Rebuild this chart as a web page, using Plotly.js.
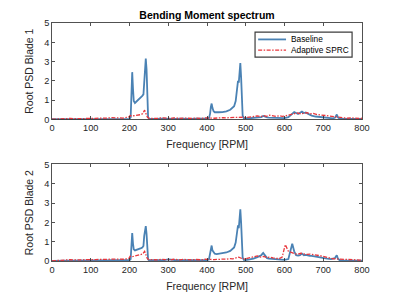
<!DOCTYPE html>
<html>
<head>
<meta charset="utf-8">
<script src="https://cdn.plot.ly/plotly-3.0.1.min.js"></script>
<style>html,body{margin:0;padding:0;background:#fff;}#chart{width:399px;height:299px;}</style>
</head>
<body>
<div id="chart"></div>
<script>
// Frequency grid for Baseline series [RPM]
const freqBase = [
  0,10,20,30,40,50,60,70,80,90,
  100,110,120,130,140,150,160,170,180,190,
  200,203,205,207,209,211,214,218,222,226,
  230,233,236,238,240,242,244,246,248,250,
  255,260,270,280,290,300,310,320,330,340,
  350,360,370,380,390,400,405,408,410,412,
  414,417,420,425,430,440,450,460,465,470,
  474,477,480,482,484,486,488,490,492,495,
  500,510,520,530,540,545,550,555,560,570,
  580,590,600,610,615,620,625,630,635,640,
  645,650,655,660,665,670,680,690,700,710,
  720,725,730,733,735,738,742,750,760,770,
  780,790,800
];
// Frequency grid for Adaptive SPRC series [RPM]
const freqSPRC = [
  0,8,16,24,32,40,48,56,64,72,
  80,88,96,104,112,120,128,136,144,152,
  160,168,176,184,192,198,202,205,210,215,
  220,225,230,234,237,239,241,243,246,250,
  258,266,274,282,290,298,306,314,322,330,
  338,346,354,362,370,378,386,394,402,410,
  418,426,434,442,450,458,466,474,482,490,
  498,506,514,522,530,538,546,554,562,570,
  578,586,594,602,610,618,626,634,642,650,
  658,666,674,682,690,698,706,714,722,730,
  738,746,754,762,770,778,786,794,800
];
const baseBlade1 = [
  0.01,0.01,0.02,0.02,0.03,0.03,0.03,0.03,0.02,0.03,
  0.03,0.03,0.02,0.03,0.03,0.04,0.04,0.03,0.04,0.03,
  0.03,0.1,1.2,2.45,1.6,0.95,0.85,0.92,1.0,1.08,
  1.18,1.22,1.3,2.2,2.35,3.15,2.6,1.0,0.12,0.04,
  0.03,0.04,0.03,0.04,0.03,0.05,0.04,0.03,0.04,0.03,
  0.04,0.03,0.04,0.03,0.04,0.04,0.06,0.3,0.65,0.82,
  0.6,0.42,0.37,0.36,0.37,0.38,0.42,0.5,0.58,0.68,
  0.95,1.6,2.0,1.9,2.5,2.92,2.2,0.9,0.2,0.06,
  0.05,0.06,0.08,0.1,0.12,0.18,0.12,0.1,0.09,0.08,
  0.07,0.06,0.07,0.12,0.2,0.3,0.38,0.33,0.28,0.34,
  0.4,0.33,0.36,0.3,0.25,0.2,0.15,0.12,0.1,0.08,
  0.06,0.05,0.08,0.2,0.25,0.1,0.04,0.03,0.02,0.02,
  0.02,0.02,0.02
];
const sprcBlade1 = [
  0.01,0.02,0.03,0.02,0.04,0.03,0.05,0.04,0.03,0.05,
  0.04,0.05,0.04,0.06,0.05,0.07,0.06,0.08,0.07,0.09,
  0.08,0.07,0.09,0.07,0.1,0.12,0.2,0.18,0.19,0.21,
  0.2,0.23,0.25,0.3,0.42,0.48,0.38,0.25,0.12,0.06,
  0.05,0.07,0.05,0.08,0.06,0.07,0.05,0.08,0.06,0.05,
  0.07,0.06,0.08,0.05,0.07,0.06,0.05,0.08,0.06,0.07,
  0.06,0.08,0.07,0.09,0.08,0.1,0.09,0.11,0.1,0.12,
  0.09,0.1,0.13,0.15,0.18,0.14,0.2,0.16,0.22,0.17,
  0.15,0.19,0.16,0.18,0.22,0.27,0.3,0.34,0.28,0.33,
  0.35,0.29,0.31,0.26,0.24,0.21,0.19,0.16,0.13,0.11,
  0.09,0.08,0.07,0.06,0.08,0.06,0.07,0.05,0.06
];
const baseBlade2 = [
  0.01,0.01,0.02,0.02,0.03,0.03,0.03,0.03,0.03,0.04,
  0.03,0.04,0.03,0.04,0.04,0.04,0.05,0.04,0.04,0.05,
  0.04,0.1,0.8,1.45,0.9,0.6,0.55,0.57,0.6,0.64,
  0.67,0.7,0.78,1.3,1.5,1.8,1.4,0.5,0.08,0.04,
  0.04,0.04,0.05,0.04,0.05,0.08,0.05,0.04,0.05,0.04,
  0.05,0.04,0.05,0.04,0.05,0.05,0.08,0.35,0.65,0.8,
  0.55,0.42,0.38,0.36,0.37,0.39,0.44,0.52,0.6,0.7,
  0.95,1.5,1.85,1.7,2.3,2.68,2.0,0.8,0.18,0.06,
  0.05,0.08,0.12,0.2,0.3,0.42,0.25,0.15,0.12,0.1,
  0.08,0.07,0.06,0.1,0.45,0.9,0.5,0.3,0.28,0.3,
  0.38,0.3,0.32,0.28,0.27,0.26,0.22,0.2,0.15,0.12,
  0.1,0.12,0.15,0.25,0.3,0.12,0.05,0.03,0.02,0.02,
  0.02,0.02,0.02
];
const sprcBlade2 = [
  0.01,0.02,0.05,0.04,0.06,0.05,0.07,0.06,0.05,0.07,
  0.06,0.07,0.06,0.08,0.07,0.08,0.07,0.09,0.08,0.1,
  0.09,0.08,0.1,0.09,0.11,0.12,0.25,0.22,0.24,0.27,
  0.26,0.3,0.32,0.36,0.45,0.5,0.4,0.28,0.12,0.07,
  0.06,0.08,0.06,0.09,0.07,0.08,0.06,0.09,0.07,0.06,
  0.08,0.07,0.09,0.06,0.08,0.07,0.06,0.09,0.07,0.08,
  0.07,0.09,0.08,0.1,0.09,0.12,0.11,0.14,0.2,0.13,
  0.1,0.15,0.18,0.22,0.26,0.2,0.24,0.18,0.2,0.16,
  0.14,0.12,0.2,0.85,0.5,0.42,0.38,0.35,0.4,0.37,
  0.34,0.36,0.32,0.3,0.28,0.25,0.2,0.16,0.13,0.11,
  0.1,0.08,0.07,0.06,0.07,0.05,0.06,0.05,0.05
];
const seriesNames = ['Baseline', 'Adaptive SPRC'];
const xTicks = [0,100,200,300,400,500,600,700,800];
const yTicks = [0,1,2,3,4,5];

const blue = '#4a82b4';
const red = '#e8363c';
const axisCol = '#262626';
const font = 'Liberation Sans, Arial, Helvetica, sans-serif';
const redDash = '4px,1.5px,1.5px,1.5px';
const seriesStyle = [
  {color: blue, width: 1.8, dash: 'solid'},
  {color: red, width: 1.3, dash: redDash}
];

const traces = [
  {x: freqBase, y: baseBlade1, name: seriesNames[0], type: 'scatter', mode: 'lines',
   line: seriesStyle[0], xaxis: 'x', yaxis: 'y'},
  {x: freqSPRC, y: sprcBlade1, name: seriesNames[1], type: 'scatter', mode: 'lines',
   line: seriesStyle[1], xaxis: 'x', yaxis: 'y'},
  {x: freqBase, y: baseBlade2, name: seriesNames[0], type: 'scatter', mode: 'lines',
   line: seriesStyle[0], xaxis: 'x2', yaxis: 'y2'},
  {x: freqSPRC, y: sprcBlade2, name: seriesNames[1], type: 'scatter', mode: 'lines',
   line: seriesStyle[1], xaxis: 'x2', yaxis: 'y2'}
];

function xAxis(anchor) {
  return {
    anchor: anchor, range: [0, 800], tickvals: xTicks, ticktext: xTicks.map(String),
    showline: true, mirror: 'ticks', linecolor: axisCol, linewidth: 0.8,
    ticks: 'inside', ticklen: 3, tickwidth: 0.8, tickcolor: axisCol,
    showgrid: false, zeroline: false, automargin: false,
    tickfont: {family: font, size: 9.2, color: axisCol},
    title: {text: 'Frequency [RPM]', font: {family: font, size: 10.5, color: axisCol}, standoff: 8}
  };
}
function yAxis(anchor, domain, label) {
  return {
    anchor: anchor, domain: domain, range: [0, 5], tickvals: yTicks, ticktext: yTicks.map(String),
    showline: true, mirror: 'ticks', linecolor: axisCol, linewidth: 0.8,
    ticks: 'inside', ticklen: 3, tickwidth: 0.8, tickcolor: axisCol,
    showgrid: false, zeroline: false, automargin: false,
    tickfont: {family: font, size: 9.2, color: axisCol},
    title: {text: label, font: {family: font, size: 10.5, color: axisCol}, standoff: 8}
  };
}

// Compact MATLAB-style legend: bordered box, sample line shapes and text labels
const legBox = {x0: 0.655, x1: 0.968, y0: 0.857, y1: 0.962};
const legRows = [0.931, 0.886];
const legSample = [0.665, 0.755];
const legText = 0.763;
const legBorder = '#3c3c3c';
const shapes = [
  {type: 'rect', xref: 'paper', yref: 'paper', x0: legBox.x0, x1: legBox.x1,
   y0: legBox.y0, y1: legBox.y1, line: {color: legBorder, width: 1.2},
   fillcolor: 'rgba(255,255,255,0)', layer: 'above'}
];
const annotations = [];
seriesNames.forEach((nm, i) => {
  shapes.push({type: 'line', xref: 'paper', yref: 'paper', x0: legSample[0], x1: legSample[1],
               y0: legRows[i], y1: legRows[i], line: seriesStyle[i], layer: 'above'});
  annotations.push({xref: 'paper', yref: 'paper', x: legText, y: legRows[i], text: nm,
                    showarrow: false, xanchor: 'left', yanchor: 'middle',
                    font: {family: font, size: 8.3, color: '#000'}});
});

const layout = {
  width: 399, height: 299,
  margin: {l: 52, r: 37, t: 23, b: 38},
  paper_bgcolor: '#ffffff', plot_bgcolor: '#ffffff',
  title: {text: '<b>Bending Moment spectrum</b>', font: {family: font, size: 10.5, color: '#000'},
          x: 0.5, xref: 'paper', y: 0.95, yref: 'container', yanchor: 'middle'},
  xaxis: xAxis('y'),
  yaxis: yAxis('x', [0.595, 1], 'Root PSD Blade 1'),
  xaxis2: xAxis('y2'),
  yaxis2: yAxis('x2', [0, 0.406], 'Root PSD Blade 2'),
  showlegend: false,
  shapes: shapes,
  annotations: annotations
};

Plotly.newPlot('chart', traces, layout, {staticPlot: true, displayModeBar: false});
</script>
</body>
</html>
